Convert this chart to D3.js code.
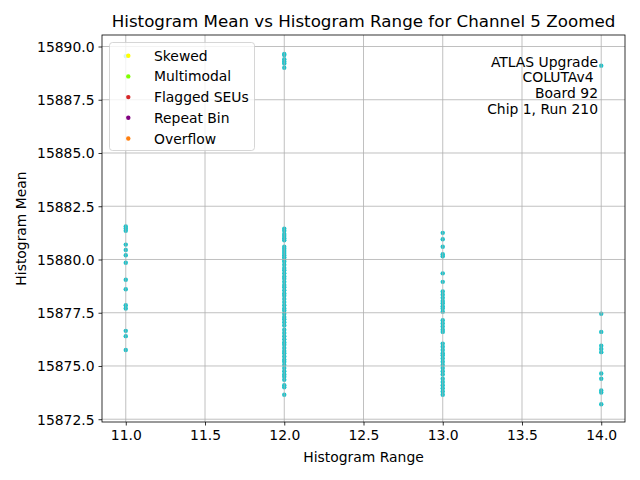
<!DOCTYPE html>
<html>
<head>
<meta charset="utf-8">
<script src="https://cdn.jsdelivr.net/npm/d3@7"></script>
<style>
  body { margin: 0; background: #fff; }
  text { font-family: "DejaVu Sans", sans-serif; fill: #000; }
</style>
</head>
<body>
<div class="chart"></div>
<script>
// data
const rangeValues = [11, 12, 13, 14];
const means11 = [15889.55, 15881.55, 15881.45, 15881.35, 15880.7, 15880.45, 15880.2, 15879.85,
    15879.05, 15878.6, 15877.85, 15877.7, 15876.65, 15876.4, 15875.75];
const means12 = [15889.65, 15889.6, 15889.4, 15889.3, 15889.2, 15889.0,
    15881.45, 15881.35, 15881.2, 15881.1, 15881.0, 15880.9, 15880.6, 15880.5, 15880.4, 15880.3,
    15880.2, 15880.1, 15880.0, 15879.9, 15879.75, 15879.6, 15879.5, 15879.35, 15879.2, 15879.1,
    15878.95, 15878.8, 15878.7, 15878.55, 15878.4, 15878.3, 15878.15, 15878.0, 15877.85, 15877.7,
    15877.6, 15877.45, 15877.3, 15877.2, 15877.05, 15876.9, 15876.7, 15876.55, 15876.4, 15876.25,
    15876.1, 15876.0, 15875.85, 15875.7, 15875.6, 15875.45, 15875.3, 15875.2, 15875.05, 15874.9,
    15874.75, 15874.6, 15874.5, 15874.35, 15874.1, 15874.0, 15873.65];
const means13 = [15881.25, 15880.95, 15880.6, 15880.25, 15880.15, 15879.35, 15878.95, 15878.5,
    15878.35, 15878.2, 15878.05, 15877.95, 15877.8, 15877.7, 15877.55, 15877.15, 15877.0, 15876.85,
    15876.7, 15876.6, 15876.05, 15875.9, 15875.75, 15875.6, 15875.5, 15875.35, 15875.2, 15875.05,
    15874.9, 15874.75, 15874.6, 15874.4, 15874.25, 15874.1, 15873.95, 15873.8, 15873.65];
const means14 = [15889.1, 15877.45, 15876.6, 15875.95, 15875.8, 15875.65, 15874.65, 15874.4,
    15873.85, 15873.75, 15873.2];
const meansByRange = [means11, means12, means13, means14];

const xTicks = [11.0, 11.5, 12.0, 12.5, 13.0, 13.5, 14.0];
const yTicks = [15872.5, 15875.0, 15877.5, 15880.0, 15882.5, 15885.0, 15887.5, 15890.0];

const legendNames = ['Skewed', 'Multimodal', 'Flagged SEUs', 'Repeat Bin', 'Overflow'];
const legendColors = ['#ffff00', '#7fff00', '#d62728', '#800080', '#ff7f0e'];
const noteLines = ['ATLAS Upgrade', 'COLUTAv4\u00a0', 'Board 92', 'Chip 1, Run 210'];

const points = [];
rangeValues.forEach((r, i) => meansByRange[i].forEach(m => points.push({ range: r, mean: m })));

// layout
const svg_width = 640;
const svg_height = 480;
const margin = { top: 35, right: 15, bottom: 58, left: 102 };
const width = svg_width - margin.left - margin.right;
const height = svg_height - margin.top - margin.bottom;

const svg = d3.select('.chart').append('svg')
    .attr('width', svg_width).attr('height', svg_height);
const g = svg.append('g').attr('transform', `translate(${margin.left},${margin.top})`);

const xScale = d3.scaleLinear().domain([10.85, 14.15]).range([0, width]);
const yScale = d3.scaleLinear().domain([15872.37, 15890.54]).range([height, 0]);

// points (grid goes over them, like matplotlib)
g.selectAll('.pt').data(points).enter().append('circle')
    .attr('class', 'pt')
    .attr('cx', d => xScale(d.range))
    .attr('cy', d => yScale(d.mean))
    .attr('r', 2.2)
    .style('fill', '#17c4cc');

// grid
g.append('g').selectAll('line').data(xTicks).enter().append('line')
    .attr('x1', d => xScale(d)).attr('x2', d => xScale(d))
    .attr('y1', 0).attr('y2', height)
    .style('stroke', '#b0b0b0').style('stroke-width', 0.8);
g.append('g').selectAll('line').data(yTicks).enter().append('line')
    .attr('y1', d => yScale(d)).attr('y2', d => yScale(d))
    .attr('x1', 0).attr('x2', width)
    .style('stroke', '#b0b0b0').style('stroke-width', 0.8);

// axes
const xAxis = d3.axisBottom(xScale).tickValues(xTicks).tickFormat(d3.format('.1f'))
    .tickSizeInner(3.5).tickSizeOuter(0).tickPadding(4.5);
const yAxis = d3.axisLeft(yScale).tickValues(yTicks).tickFormat(d3.format('.1f'))
    .tickSizeInner(3.5).tickSizeOuter(0).tickPadding(4);
const xAxisDraw = g.append('g').attr('transform', `translate(0,${height})`).call(xAxis);
const yAxisDraw = g.append('g').call(yAxis);
[xAxisDraw, yAxisDraw].forEach(a => {
    a.select('.domain').remove();
    a.selectAll('line').style('stroke', '#000').style('stroke-width', 0.8);
    a.selectAll('text').style('font-size', '13.9px').style('font-family', '"DejaVu Sans", sans-serif');
});
yAxisDraw.selectAll('text').attr('dy', '0.35em');
xAxisDraw.selectAll('text').attr('dy', '0.75em');

// frame
g.append('rect').attr('width', width).attr('height', height)
    .style('fill', 'none').style('stroke', '#000').style('stroke-width', 0.8);

// legend
const legend = g.append('g').attr('transform', 'translate(7.5,7.5)');
legend.append('rect').attr('width', 145).attr('height', 108).attr('rx', 3)
    .style('fill', '#fff').style('fill-opacity', 0.8)
    .style('stroke', '#cccccc').style('stroke-opacity', 0.8);
const rows = legend.selectAll('.row').data(legendNames).enter().append('g')
    .attr('transform', (d, i) => `translate(0,${13.2 + i * 20.7})`);
rows.append('circle').attr('cx', 18.8).attr('cy', 0).attr('r', 2.2)
    .style('fill', (d, i) => legendColors[i]);
rows.append('text').attr('x', 44.5).attr('dy', '0.36em')
    .style('font-size', '13.9px').text(d => d);

// note
g.append('text').attr('text-anchor', 'end').style('font-size', '13.9px')
    .selectAll('tspan').data(noteLines).enter().append('tspan')
    .attr('x', 496).attr('y', (d, i) => 31.5 + i * 15.8).text(d => d);

// titles
svg.append('text').attr('x', margin.left + width / 2).attr('y', 27)
    .attr('text-anchor', 'middle').style('font-size', '16.7px')
    .text('Histogram Mean vs Histogram Range for Channel 5 Zoomed');
svg.append('text').attr('x', margin.left + width / 2).attr('y', 462)
    .attr('text-anchor', 'middle').style('font-size', '13.9px').text('Histogram Range');
svg.append('text').attr('transform', `translate(26,${margin.top + height / 2}) rotate(-90)`)
    .attr('text-anchor', 'middle').style('font-size', '13.9px').text('Histogram Mean');
</script>
</body>
</html>
